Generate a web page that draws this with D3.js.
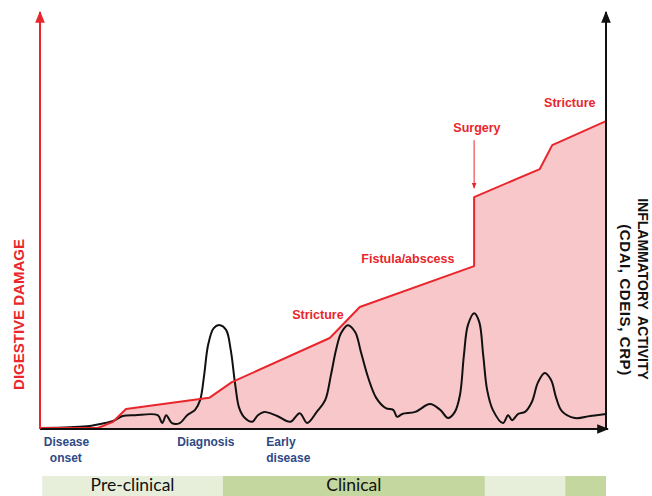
<!DOCTYPE html>
<html lang="en">
<head>
    <meta charset="UTF-8">
    <title>Digestive damage vs inflammatory activity</title>
    <style>
        body { margin: 0; padding: 0; background: #ffffff; }
        svg { display: block; }
    </style>
    <script src="https://d3js.org/d3.v7.min.js"></script>
</head>
<body>
    <script>
        // time axis runs 0..100, both vertical axes 0..100
        const damageTime  = [0, 10.2, 12.9, 15.2, 29.9, 33.9, 51.2, 56.5, 76.7, 76.7, 88.3, 90.5, 100];
        const damageValue = [0, 0, 1.5, 4.6, 7.3, 11.1, 21.8, 29.3, 39.2, 55.9, 62.7, 68.5, 74.3];

        const activityTime = [0, 5.3, 8.8, 11.5, 12.9, 14.6, 16.8, 20.8, 21.6, 22.3, 23.3, 24.7, 26.0, 27.4, 28.3, 29.0,
            29.7, 30.7, 31.8, 32.9, 33.7, 34.5, 35.2, 36.2, 37.5, 38.5, 39.6, 41.9, 44.2, 45.9, 47.2, 48.9, 50.4,
            51.4, 52.3, 53.2, 54.4, 55.7, 56.7, 58.0, 59.4, 61.1, 62.4, 63.1, 64.0, 66.3, 68.9, 70.7, 72.1, 73.3,
            74.2, 74.9, 75.6, 76.7, 77.6, 78.3, 79.0, 80.0, 81.8, 82.7, 83.4, 84.5, 85.7, 86.9, 88.0, 89.2, 90.3,
            91.2, 92.2, 94.5, 97.2, 100];
        const activityValue = [0, 0.2, 0.5, 1.2, 1.7, 2.9, 3.1, 3.1, 1.2, 3.1, 1.2, 1.2, 3.1, 4.4, 6.8, 12.8,
            20.1, 24.2, 24.9, 23.7, 18.9, 10.4, 4.8, 2.4, 1.5, 3.1, 3.9, 2.9, 1.5, 3.6, 1.2, 3.9, 6.8,
            12.8, 18.9, 23.0, 24.9, 23.2, 18.4, 12.1, 7.3, 4.8, 4.4, 2.7, 3.4, 3.9, 5.8, 4.4, 2.4, 3.9,
            8.0, 17.7, 24.9, 27.8, 25.7, 17.7, 9.2, 4.4, 1.2, 3.1, 1.9, 3.4, 3.9, 6.3, 11.1, 13.3, 11.6,
            7.3, 4.1, 2.4, 2.9, 3.4];

        // complications written on the damage curve
        const eventNames = ["Stricture", "Fistula/abscess", "Surgery", "Stricture"];
        const eventTimes = [49.1, 65.0, 77.2, 93.6];
        const eventLevels = [27.4, 40.9, 72.6, 78.7];

        // milestones under the time axis
        const milestoneNames = [["Disease", "onset"], ["Diagnosis"], ["Early", "disease"]];
        const milestoneTimes = [0.5, 29.3, 39.8];

        // phase band
        const phaseNames = ["Pre-clinical", "Clinical", "", ""];
        const phaseStart = [0.4, 32.3, 78.6, 92.8];
        const phaseEnd   = [32.3, 78.6, 92.8, 100];
        const phaseColors = ["#e7efdb", "#c4d79e", "#e7efdb", "#c4d79e"];

        const width = 652, height = 496;
        const red = "#e8262c", blue = "#2e4a86";

        const svg = d3.select("body").append("svg")
            .attr("width", width)
            .attr("height", height)
            .style("font-family", "'Liberation Sans', Arial, sans-serif");

        const x = d3.scaleLinear().domain([0, 100]).range([40, 606]);
        const yDamage = d3.scaleLinear().domain([0, 100]).range([428, 15]);
        const yActivity = d3.scaleLinear().domain([0, 100]).range([428, 15]);

        const defs = svg.append("defs");
        function marker(id, color) {
            defs.append("marker")
                .attr("id", id)
                .attr("viewBox", "0 0 10 10")
                .attr("refX", 9).attr("refY", 5)
                .attr("markerWidth", 6).attr("markerHeight", 6)
                .attr("orient", "auto")
                .append("path")
                .attr("d", "M0,1 L10,5 L0,9 z")
                .attr("fill", color);
        }
        marker("arrowRed", red);
        marker("arrowBlack", "#111");

        // damage area
        const damage = damageTime.map((t, i) => ({ t: t, v: damageValue[i] }));
        svg.append("path")
            .datum(damage)
            .attr("fill", "#f8c7c9")
            .attr("d", d3.area().x(d => x(d.t)).y0(yDamage(0)).y1(d => yDamage(d.v)));

        // inflammatory activity
        const activity = activityTime.map((t, i) => ({ t: t, v: activityValue[i] }));
        svg.append("path")
            .datum(activity)
            .attr("fill", "none")
            .attr("stroke", "#111")
            .attr("stroke-width", 2)
            .attr("d", d3.line().x(d => x(d.t)).y(d => yActivity(d.v)).curve(d3.curveCatmullRom.alpha(0.5)));

        // damage line
        svg.append("path")
            .datum(damage)
            .attr("fill", "none")
            .attr("stroke", red)
            .attr("stroke-width", 2)
            .attr("stroke-linejoin", "round")
            .attr("d", d3.line().x(d => x(d.t)).y(d => yDamage(d.v)));

        // axes
        svg.append("line")
            .attr("x1", x(0)).attr("x2", x(100) + 2)
            .attr("y1", yDamage(0) + 1).attr("y2", yDamage(0) + 1)
            .attr("stroke", "#111").attr("stroke-width", 2)
            .attr("marker-end", "url(#arrowBlack)");
        svg.append("line")
            .attr("x1", x(0)).attr("x2", x(0))
            .attr("y1", yDamage(0) + 1).attr("y2", yDamage(100) - 3)
            .attr("stroke", red).attr("stroke-width", 2)
            .attr("marker-end", "url(#arrowRed)");
        svg.append("line")
            .attr("x1", x(100)).attr("x2", x(100))
            .attr("y1", yActivity(0) + 1).attr("y2", yActivity(100) - 3)
            .attr("stroke", "#111").attr("stroke-width", 2)
            .attr("marker-end", "url(#arrowBlack)");

        // axis titles
        svg.append("text")
            .attr("transform", "translate(24,314.5) rotate(-90)")
            .attr("text-anchor", "middle")
            .attr("fill", red)
            .attr("font-weight", "bold")
            .attr("font-size", 15)
            .text("DIGESTIVE DAMAGE");

        const right = svg.append("text")
            .attr("transform", "translate(638,289) rotate(90)")
            .attr("text-anchor", "middle")
            .attr("fill", "#111")
            .attr("font-weight", "bold")
            .attr("font-size", 14);
        right.append("tspan").attr("x", 0).attr("dy", 0).attr("word-spacing", 3).text("INFLAMMATORY ACTIVITY");
        right.append("tspan").attr("x", 11).attr("dy", 18).attr("font-size", 15).attr("letter-spacing", 0.6).text("(CDAI, CDEIS, CRP)");

        // events
        svg.selectAll("text.event")
            .data(eventNames)
            .join("text")
            .attr("class", "event")
            .attr("x", (d, i) => x(eventTimes[i]))
            .attr("y", (d, i) => yDamage(eventLevels[i]) + 4)
            .attr("text-anchor", "middle")
            .attr("fill", red)
            .attr("font-weight", "bold")
            .attr("font-size", 12.5)
            .text(d => d);

        // surgery arrow
        const surgery = eventNames.indexOf("Surgery");
        svg.append("line")
            .attr("x1", x(damageTime[8])).attr("x2", x(damageTime[8]))
            .attr("y1", yDamage(eventLevels[surgery]) + 12)
            .attr("y2", yDamage(damageValue[9]) - 9)
            .attr("stroke", red).attr("stroke-width", 1)
            .attr("marker-end", "url(#arrowRed)");

        // milestones
        milestoneNames.forEach((lines, i) => {
            const t = svg.append("text")
                .attr("x", x(milestoneTimes[i]) + (i === 1 ? 0 : 1))
                .attr("y", 446)
                .attr("text-anchor", i === 1 ? "middle" : "start")
                .attr("fill", blue)
                .attr("font-weight", "bold")
                .attr("font-size", 12);
            lines.forEach((s, j) => {
                t.append("tspan")
                    .attr("x", x(milestoneTimes[i]) + (i === 1 ? 0 : (j === 1 && i === 0 ? 7 : 1)))
                    .attr("dy", j === 0 ? 0 : 16)
                    .text(s);
            });
        });

        // phase band
        svg.selectAll("rect.phase")
            .data(phaseNames)
            .join("rect")
            .attr("class", "phase")
            .attr("x", (d, i) => x(phaseStart[i]))
            .attr("width", (d, i) => x(phaseEnd[i]) - x(phaseStart[i]))
            .attr("y", 476)
            .attr("height", 22)
            .attr("fill", (d, i) => phaseColors[i]);

        svg.selectAll("text.phase")
            .data(phaseNames)
            .join("text")
            .attr("class", "phase")
            .attr("x", (d, i) => (x(phaseStart[i]) + x(phaseEnd[i])) / 2)
            .attr("y", 491)
            .attr("text-anchor", "middle")
            .attr("fill", "#111")
            .attr("font-family", "Lato, 'Open Sans', sans-serif")
            .attr("font-size", 17.5)
            .text(d => d);
    </script>
</body>
</html>
